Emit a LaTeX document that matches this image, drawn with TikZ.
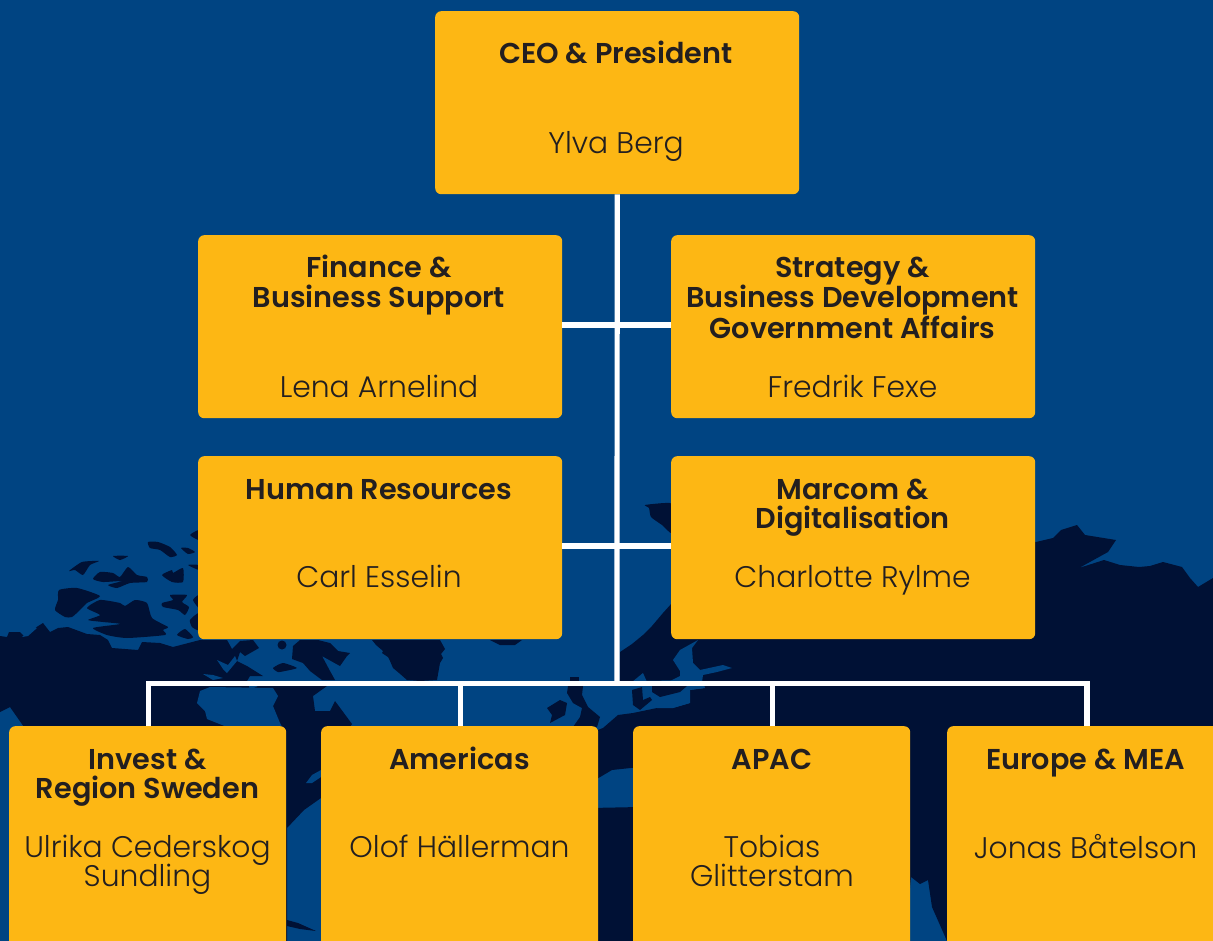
\documentclass[tikz,border=0pt]{standalone}
\usepackage{fontspec}
\setmainfont{Poppins Light}
\newfontfamily\titlefont{Poppins SemiBold}
\definecolor{seablue}{HTML}{004482}
\definecolor{landdark}{HTML}{001135}
\definecolor{boxyellow}{HTML}{FDB714}
\definecolor{inktext}{HTML}{231F20}
\tikzset{
  land/.style={fill=landdark,draw=none},
  sea/.style={fill=seablue,draw=none},
  orgbox/.style={fill=boxyellow,draw=none,rounded corners=6pt,inner sep=0pt,anchor=north west},
  wide/.style={orgbox,minimum width=364pt,minimum height=183pt},
  narrow/.style={orgbox,minimum width=277pt,minimum height=240pt},
  titletext/.style={anchor=base,yshift=-1pt,inner sep=0pt,align=center,text=inktext,font=\titlefont\fontsize{28.7}{29.5}\selectfont},
  nametext/.style={anchor=base,yshift=-1pt,inner sep=0pt,align=center,text=inktext,font=\fontsize{29.8}{29.5}\selectfont},
  link/.style={draw=white,line width=5.2pt,line cap=butt,line join=miter}
}
\newcommand\blob[1]{\path[land] plot[smooth cycle,tension=0.35] coordinates {#1};}
\begin{document}
\begin{tikzpicture}[x=1pt,y=-1pt]
\useasboundingbox (0,0) rectangle (1213,941);
\clip (0,0) rectangle (1213,941);
\fill[seablue] (0,0) rectangle (1213,941);
% North America
\path[land] (0,636)--(7,637)--(9,632)--(20,632)--(24,636)--(35,628)--(43,623)--(50,632)--(58,628)--(68,627)--(87,634)--(100,635)--(108,640)--(112,648)--(138,650)--(142,642)--(160,643)--(173,647)--(200,640)--(227,640)--(232,649)--(240,641)--(253,640)--(259,648)--(245,656)--(240,652)--(237,661)--(247,666)--(263,676)--(250,676)--(247,681)--(250,690)--(258,686)--(327,686)--(313,696)--(315,711)--(330,711)--(335,701)--(352,724)--(350,727)--(321,770)--(321,798)--(304,810)--(287,828)--(287,941)--(200,941)--(24,727)--(10,707)--(0,712)--cycle;
% Hudson Bay and channels
\path[sea] (200,691)--(210,687)--(273,688)--(278,696)--(273,706)--(280,723)--(282,727)--(227,727)--(207,719)--(205,711)--(197,703)--cycle;
\path[sea] (306,783)--(312,775)--(321,770)--(321,777)--(312,783)--cycle;
\path[sea] (217,660)--(228,665)--(235,656)--(237,661)--(227,673)--(223,669)--cycle;
\path[sea] (203,674)--(213,675)--(223,678)--(213,680)--cycle;
\path[sea] (22,637)--(30,630)--(35,627)--(37,628)--(28,636)--cycle;
% Arctic islands
\blob{(55,610)(58,600)(59,590)(77,588)(100,596)(87,603)(80,610)(72,617)(65,617)}
\blob{(87,608)(100,600)(120,603)(125,606)(135,600)(147,603)(152,618)(168,627)(163,630)(165,635)(127,638)(107,635)(93,628)(120,624)(103,622)(88,620)(100,615)}
\blob{(69,571)(82,562)(99,561)(90,565)(83,575)(75,570)}
\blob{(93,579)(100,572)(113,573)(120,577)(128,567)(137,575)(147,577)(147,582)(130,583)(117,588)(108,585)(122,581)(103,582)}
\blob{(113,556)(128,556)(120,560)}
\blob{(148,542)(158,542)(170,547)(177,555)(170,557)(160,550)(150,548)}
\blob{(181,548)(188,548)(195,552)(188,554)}
\blob{(162,575)(172,570)(173,573)(183,568)(183,582)(172,582)}
\blob{(162,603)(173,600)(170,595)(187,595)(182,602)(189,607)(185,615)(178,610)(163,607)}
\blob{(177,635)(185,629)(193,637)(188,639)}
\blob{(188,565)(199,565)(199,570)}
\blob{(190,535)(199,530)(199,540)}
\blob{(190,620)(199,613)(199,630)(192,627)}
\blob{(193,600)(199,595)(199,608)}
% Baffin and small islands
\path[land] (292,659)--(293,646)--(300,640)--(318,640)--(330,643)--(338,651)--(350,653)--(347,656)--(340,666)--(322,656)--(330,671)--(335,680)--(322,680)--(310,671)--(303,663)--cycle;
\blob{(273,668)(283,663)(297,668)(285,671)(278,672)}
\fill[landdark] (282,645) circle (4.5pt);
% Greenland, Iceland
\path[land] (372,640)--(376,645)--(383,651)--(382,653)--(388,657)--(390,661)--(393,668)--(399,673)--(407,680)--(420,681)--(437,680)--(440,663)--(443,658)--(441,654)--(445,649)--(440,640)--cycle;
\path[land] (490,640)--(522,640)--(515,645)--(500,645)--cycle;
% Svalbard
\blob{(645,505)(665,503)(672,505)(672,533)(662,525)(651,517)(649,508)}
% Eurasia
\path[land] (620,681)--(620,652)--(632,644)--(643,635)--(652,626)--(663,613)--(672,603)--(672,540)--(1036,542)--(1053,538)--(1061,530)--(1077,525)--(1085,535)--(1116,540)--(1108,552)--(1079,568)--(1104,560)--(1120,565)--(1139,567)--(1150,566)--(1163,562)--(1182,567)--(1190,578)--(1198,587)--(1213,578)--(1213,941)--(947,941)--(932,907)--(928,880)--(920,884)--(911,877)--(905,941)--(590,941)--(590,808)--(640,807)--(640,767)--(612,770)--(590,783)--(590,733)--(603,728)--(618,715)--(633,713)--(657,708)--(673,708)--(690,703)--(690,690)--(705,688)--(702,680)--cycle;
% Baltic
\path[sea] (673,660)--(680,650)--(698,640)--(692,648)--(693,663)--(700,670)--(723,665)--(732,668)--(717,672)--(703,675)--(702,682)--(705,688)--(690,690)--(690,703)--(673,708)--(657,708)--(652,686)--(670,681)--(680,676)--(680,671)--cycle;
\path[sea] (632,682)--(643,673)--(647,682)--cycle;
\path[land] (652,686)--(687,686)--(680,692)--(660,697)--(652,692)--cycle;
\path[land] (632,690)--(642,687)--(643,700)--(650,697)--(652,700)--(640,710)--(633,705)--cycle;
% Britain and Ireland
\path[land] (568,686)--(583,686)--(582,695)--(588,707)--(600,717)--(597,727)--(573,727)--(580,717)--(582,708)--(573,703)--(567,693)--cycle;
\path[land] (547,708)--(560,700)--(567,703)--(565,715)--(550,723)--(552,715)--cycle;
\path[land] (570,677)--(579,677)--(579,682)--(570,682)--cycle;
% Cuba
\path[land] (287,920)--(298,923)--(316,931)--(300,929)--(287,926)--cycle;
% Boxes
\node[wide] (ceo) at (435,11) {};
\node[wide] (fin) at (198,235) {};
\node[wide] (strat) at (671,235) {};
\node[wide] (hr) at (198,456) {};
\node[wide] (mar) at (671,456) {};
\node[narrow] (inv) at (9,726) {};
\node[narrow] (ame) at (321,726) {};
\node[narrow] (apa) at (633,726) {};
\node[narrow] (eur) at (947,726) {};
% Connectors
\coordinate (bus) at (617,683.5);
\coordinate (tapa) at (617,325);
\coordinate (tapb) at (617,546);
\coordinate (busl) at (148.5,683.5);
\coordinate (busa) at (460.5,683.5);
\coordinate (busp) at (772.5,683.5);
\coordinate (busr) at (1087,683.5);
\draw[link] (ceo.south) -- (bus);
\draw[link] (fin.east |- tapa) -- (strat.west |- tapa);
\draw[link] (hr.east |- tapb) -- (mar.west |- tapb);
\draw[link] (inv.north -| busl) -- (busl) -- (busr) -- (eur.north -| busr);
\draw[link] (ame.north -| busa) -- (busa);
\draw[link] (apa.north -| busp) -- (busp);
% Texts
\node[titletext] (t1) at (616,63) {CEO \& President};
\node[nametext] (n1) at (616,153) {Ylva Berg};
\node[titletext] (t2) at (379,277) {Finance \&};
\node[titletext] (t2b) at (379,306.5) {Business Support};
\node[nametext] (n2) at (379,396) {Lena Arnelind};
\node[titletext] (t3) at (852.5,277) {Strategy \&};
\node[titletext] (t3b) at (852.5,306.5) {Business Development};
\node[titletext] (t3c) at (852.5,337) {Government Affairs};
\node[nametext] (n3) at (852.5,396) {Fredrik Fexe};
\node[titletext] (t4) at (379,498) {Human Resources};
\node[nametext] (n4) at (379,586) {Carl Esselin};
\node[titletext] (t5) at (852.5,498) {Marcom \&};
\node[titletext] (t5b) at (852.5,527) {Digitalisation};
\node[nametext] (n5) at (852.5,586) {Charlotte Rylme};
\node[titletext] (t6) at (147.5,768) {Invest \&};
\node[titletext] (t6b) at (147.5,797) {Region Sweden};
\node[nametext] (n6) at (147.5,856) {Ulrika Cederskog};
\node[nametext] (n6b) at (147.5,885) {Sundling};
\node[titletext] (t7) at (459.5,768) {Americas};
\node[nametext] (n7) at (459.5,856) {Olof Hällerman};
\node[titletext] (t8) at (772,768) {APAC};
\node[nametext] (n8) at (772,856) {Tobias};
\node[nametext] (n8b) at (772,885) {Glitterstam};
\node[titletext] (t9) at (1085.5,768) {Europe \& MEA};
\node[nametext] (n9) at (1085.5,857) {Jonas Båtelson};
\end{tikzpicture}
\end{document}
